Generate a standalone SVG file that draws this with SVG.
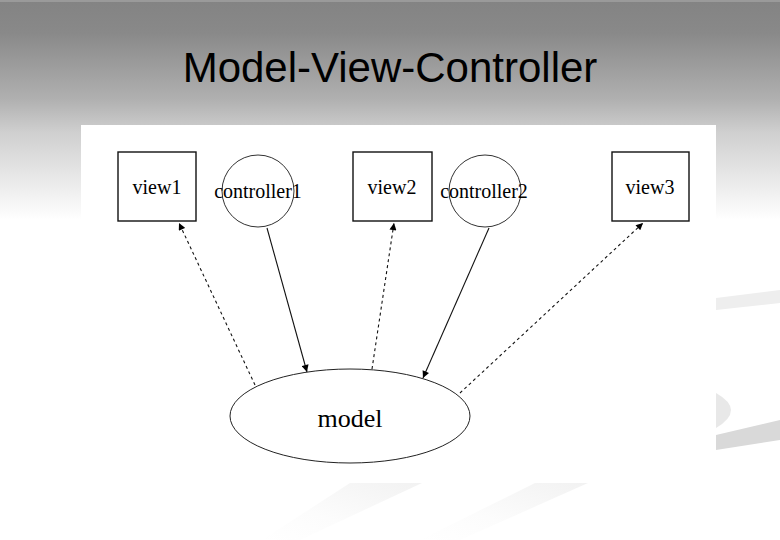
<svg xmlns="http://www.w3.org/2000/svg" width="780" height="540" viewBox="0 0 780 540">
<defs>
<linearGradient id="bg" gradientUnits="userSpaceOnUse" x1="0" y1="0" x2="0" y2="220">
<stop offset="0" stop-color="#838383"/>
<stop offset="0.15" stop-color="#898989"/>
<stop offset="0.45" stop-color="#b0b0b0"/>
<stop offset="0.6" stop-color="#cfcfcf"/>
<stop offset="1" stop-color="#ffffff"/>
</linearGradient>
<linearGradient id="sw" x1="1" y1="0" x2="0" y2="1">
<stop offset="0" stop-color="#f2f2f2"/>
<stop offset="0.6" stop-color="#fcfcfc"/>
<stop offset="1" stop-color="#ffffff"/>
</linearGradient>
<marker id="ah" viewBox="0 0 10 10" refX="10" refY="5" markerWidth="9" markerHeight="7" markerUnits="userSpaceOnUse" orient="auto">
<path d="M0,0 L10,5 L0,10 z" fill="#000"/>
</marker>
<style>
.box{fill:#fff;stroke:#111;stroke-width:1.4}
.circ{fill:#fff;stroke:#333;stroke-width:1}
.lbl{font-family:"Liberation Serif","Times New Roman",serif;font-size:20px;fill:#000;text-anchor:middle}
.solid{stroke:#111;stroke-width:1.1;fill:none;marker-end:url(#ah)}
.dash{stroke:#111;stroke-width:1.1;fill:none;stroke-dasharray:3,3;marker-end:url(#ah)}
</style>
</defs>
<rect x="0" y="0" width="780" height="540" fill="#fff"/>
<rect x="0" y="0" width="780" height="220" fill="url(#bg)"/>
<rect x="0" y="0" width="780" height="2" fill="#9a9a9a"/>
<g id="decor">
<path d="M716,298 L780,290 L780,303 L716,310 z" fill="#eeeeee"/>
<path d="M716,393 Q746,410 716,428 z" fill="#e8e8e8"/>
<path d="M716,435 L780,420 L780,440 L716,450 z" fill="#d9d9d9"/>
</g>
<rect x="81" y="125" width="635" height="358" fill="#fff"/>
<g id="decor-bottom">
<path d="M350,483 L422,483 L300,540 L262,540 z" fill="url(#sw)"/>
<path d="M535,483 L588,483 L460,540 L420,540 z" fill="url(#sw)"/>
</g>
<text x="390" y="82" font-family="'Liberation Sans',Arial,sans-serif" font-size="42" text-anchor="middle" fill="#000">Model-View-Controller</text>
<g id="connectors">
<line class="dash" x1="255" y1="385" x2="179" y2="223"/>
<line class="solid" x1="267" y1="228" x2="307" y2="372"/>
<line class="dash" x1="372" y1="369" x2="394" y2="223"/>
<line class="solid" x1="489" y1="228" x2="423" y2="378"/>
<line class="dash" x1="460" y1="393" x2="643" y2="223"/>
</g>
<g id="view1">
<rect class="box" x="118" y="152" width="78" height="69"/>
<text class="lbl" x="157" y="194">view1</text>
</g>
<g id="controller1">
<circle class="circ" cx="258" cy="191" r="36"/>
<text class="lbl" x="258" y="198">controller1</text>
</g>
<g id="view2">
<rect class="box" x="353" y="152" width="79" height="69"/>
<text class="lbl" x="392" y="194">view2</text>
</g>
<g id="controller2">
<circle class="circ" cx="485" cy="191" r="36"/>
<text class="lbl" x="484" y="198">controller2</text>
</g>
<g id="view3">
<rect class="box" x="612" y="152" width="77" height="69"/>
<text class="lbl" x="650" y="194">view3</text>
</g>
<g id="model">
<ellipse cx="350" cy="416" rx="120" ry="47" fill="#fff" stroke="#222" stroke-width="1"/>
<text class="lbl" x="350" y="427" style="font-size:26px">model</text>
</g>
</svg>
